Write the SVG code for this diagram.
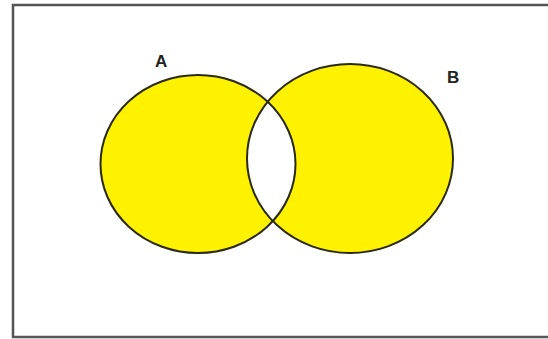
<svg xmlns="http://www.w3.org/2000/svg" width="548" height="339" viewBox="0 0 548 339">
<style>
.set{fill:#FFF200;stroke:none}
.outline{fill:none;stroke:#2a2a10;stroke-width:2}
.lbl{font-family:"Liberation Sans",Arial,sans-serif;font-weight:bold;font-size:17px;fill:#222}
</style>
<defs>
<clipPath id="clipA"><ellipse cx="198" cy="164" rx="97.5" ry="89"/></clipPath>
</defs>
<rect x="0" y="0" width="548" height="339" fill="#fff"/>
<rect x="13" y="5" width="545" height="332" fill="none" stroke="#555" stroke-width="2.5"/>
<g id="setA">
<ellipse class="set" cx="198" cy="164" rx="97.5" ry="89"/>
</g>
<g id="setB">
<ellipse class="set" cx="350" cy="158.5" rx="103" ry="94.5"/>
</g>
<g id="intersection">
<ellipse cx="350" cy="158.5" rx="103" ry="94.5" fill="#fff" clip-path="url(#clipA)"/>
</g>
<g id="outlines">
<ellipse class="outline" cx="198" cy="164" rx="97.5" ry="89"/>
<ellipse class="outline" cx="350" cy="158.5" rx="103" ry="94.5"/>
</g>
<text class="lbl" x="155" y="67">A</text>
<text class="lbl" x="447" y="83">B</text>
</svg>
